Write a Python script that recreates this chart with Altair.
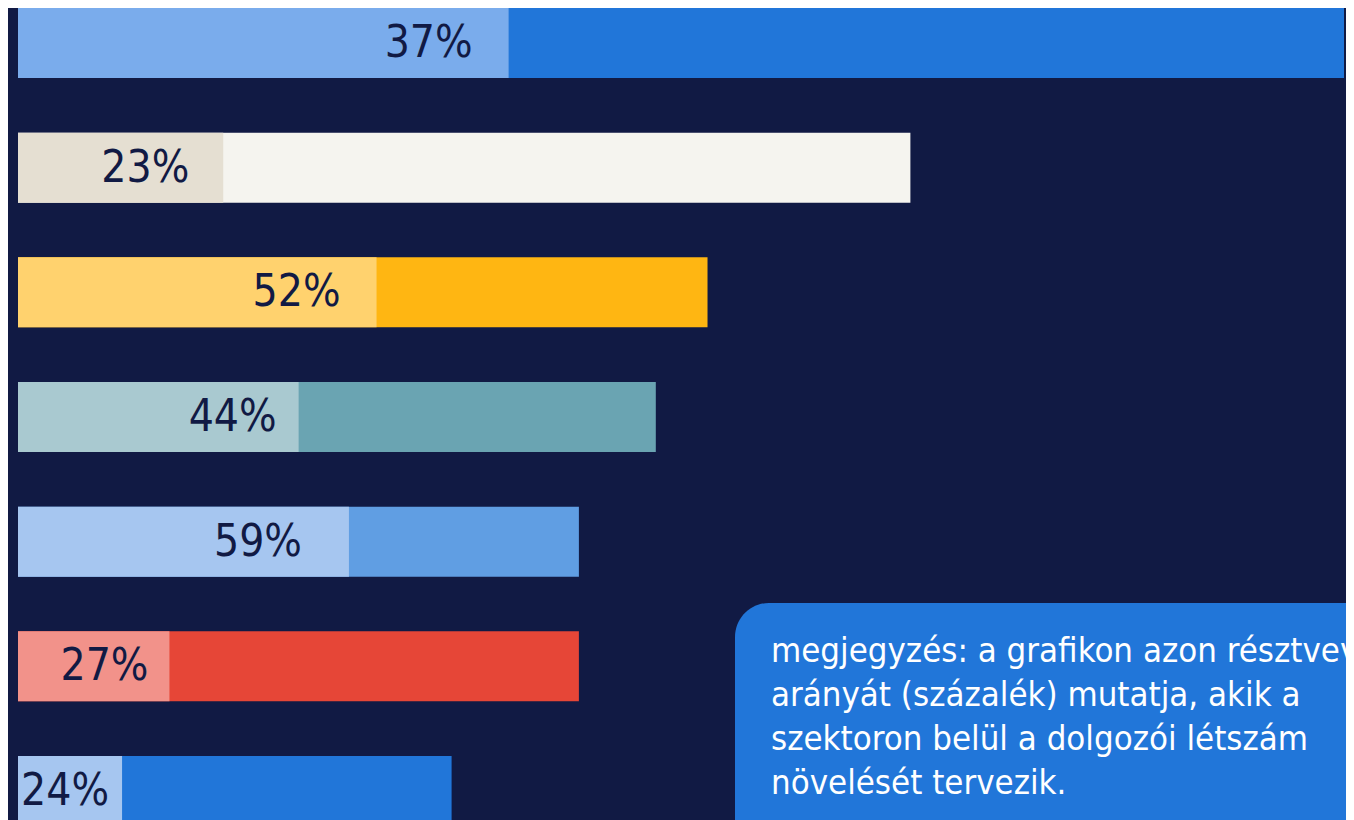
import altair as alt
import pandas as pd

# ---- data ----
rows = ["A", "B", "C", "D", "E", "F", "G"]
totals = [100.0, 67.3, 52.0, 48.1, 42.3, 42.3, 32.7]   # relative bar length
pcts = [37, 23, 52, 44, 59, 27, 24]                     # share shown by the light part
light_colors = ["#7aacec", "#e5dfd2", "#ffd26e", "#a9c9d0", "#a6c6f0", "#f2928a", "#a6c6f0"]
dark_colors = ["#2176d9", "#f5f4ef", "#ffb612", "#6aa4b2", "#609ee3", "#e64637", "#2176d9"]
note_lines = [
    "megjegyzés: a grafikon azon résztvevők",
    "arányát (százalék) mutatja, akik a",
    "szektoron belül a dolgozói létszám",
    "növelését tervezik.",
]

# ---- style ----
BG = "#111a44"
NOTE_BG = "#2176d9"
FONT = "DejaVu Sans Condensed, DejaVu Sans"
W, H = 1326, 818
PX_PER_UNIT = W / 100.0
label_gap_px = [36, 34, 36, 22, 47, 21, 13]

recs = []
for i, r in enumerate(rows):
    light = totals[i] * pcts[i] / 100.0
    recs.append(dict(row=r, key="d" + r, start=0, end=totals[i], layer=0))
    recs.append(dict(row=r, key="l" + r, start=0, end=light, layer=1))
bars = pd.DataFrame(recs)

labels = pd.DataFrame({
    "row": rows,
    "pos": [totals[i] * pcts[i] / 100.0 - label_gap_px[i] / PX_PER_UNIT for i in range(len(rows))],
    "txt": [f"{p}%" for p in pcts],
})

keys = ["d" + r for r in rows] + ["l" + r for r in rows]
cols = dark_colors + light_colors

xscale = alt.Scale(domain=[0, 100], nice=False, zero=True)
yscale = alt.Scale(domain=rows, paddingInner=0.4387, paddingOuter=0)

bar_layer = alt.Chart(bars).mark_bar(cornerRadius=0).encode(
    x=alt.X("start:Q", scale=xscale, axis=None),
    x2="end:Q",
    y=alt.Y("row:N", scale=yscale, axis=None),
    color=alt.Color("key:N", scale=alt.Scale(domain=keys, range=cols), legend=None),
    order=alt.Order("layer:Q"),
)

text_layer = alt.Chart(labels).mark_text(
    align="right", baseline="middle", font=FONT, fontSize=44, color=BG, dy=1
).encode(
    x=alt.X("pos:Q", scale=xscale, axis=None),
    y=alt.Y("row:N", scale=yscale, axis=None),
    text="txt:N",
)

note_box = alt.Chart(pd.DataFrame({"a": [0]})).mark_rect(
    color=NOTE_BG, cornerRadius=34
).encode(
    x=alt.value(717), x2=alt.value(1420), y=alt.value(595), y2=alt.value(900)
)

note_text = alt.Chart(pd.DataFrame({"t": [note_lines]})).mark_text(
    align="left", baseline="alphabetic", font=FONT, fontSize=34.5, color="white",
    lineHeight=44,
).encode(
    x=alt.value(753), y=alt.value(654), text="t"
)

chart = alt.layer(bar_layer, text_layer, note_box, note_text).properties(
    width=W, height=H,
    background=BG,
    padding={"left": 10, "right": 2, "top": 0, "bottom": 0},
    autosize=alt.AutoSizeParams(type="none"),
).configure_view(stroke=None)

chart.save("out.html", embed_options={"renderer": "svg", "actions": False})
